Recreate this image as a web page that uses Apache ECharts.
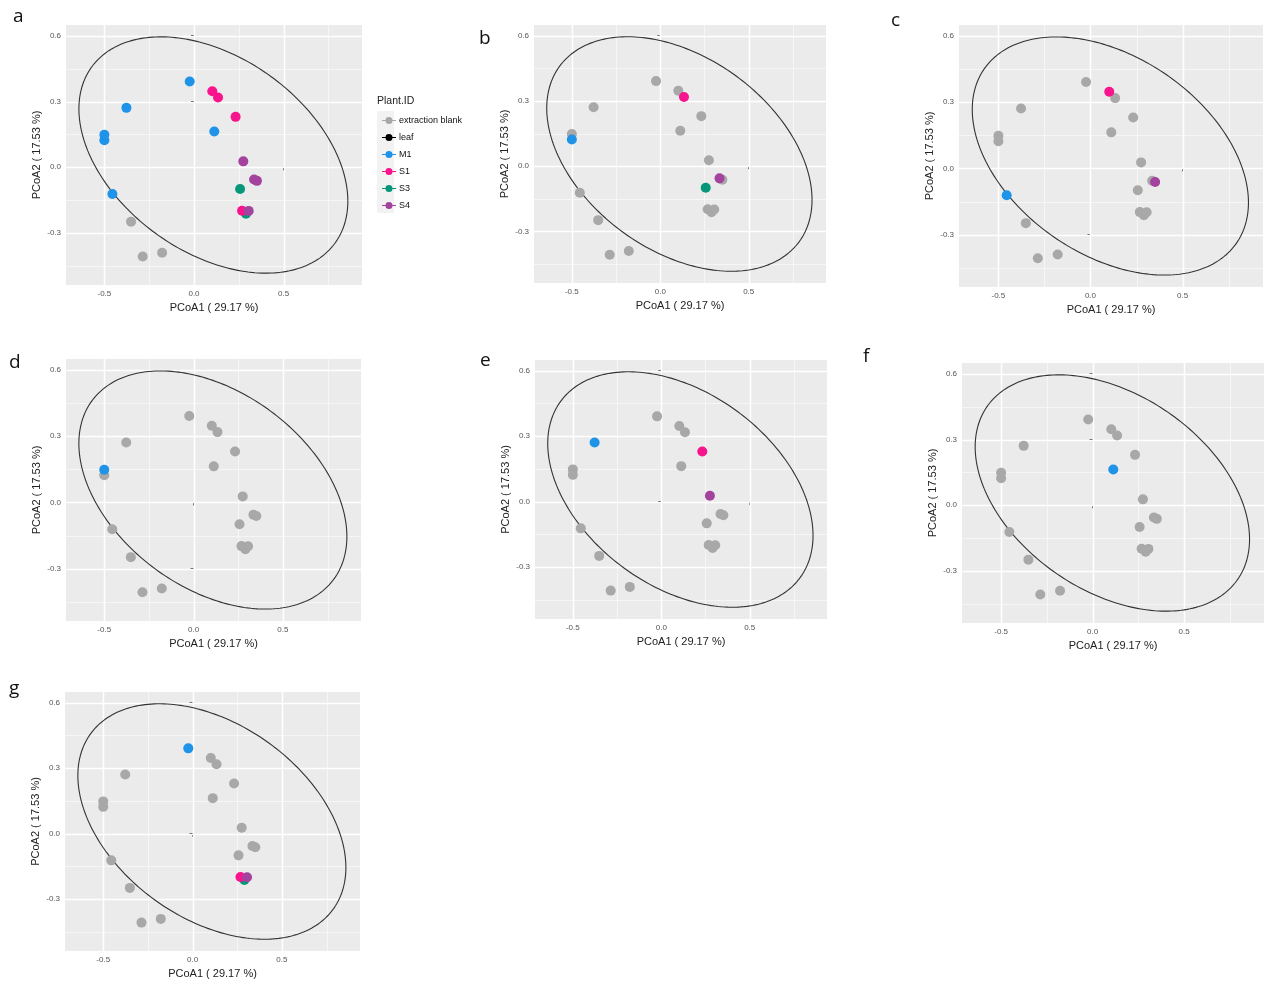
<!DOCTYPE html>
<html><head><meta charset="utf-8">
<script src="https://cdn.jsdelivr.net/npm/echarts@6/dist/echarts.min.js"></script>
<style>html,body{margin:0;padding:0;background:#fff}#c{width:1265px;height:982px}</style>
</head><body><div id="c"></div>
<script>
// ---------- data ----------
const groups = ['extraction blank', 'leaf', 'M1', 'S1', 'S3', 'S4'];
const panels = ['a', 'b', 'c', 'd', 'e', 'f', 'g'];
// sample coordinates (PCoA1, PCoA2), group, and the panel in which each sample is highlighted
const pcoa1 = [-0.351, -0.286, -0.178,
  -0.500, -0.455, -0.500, -0.377, 0.113, -0.024,
  0.134, 0.102, 0.232, 0.268,
  0.257, 0.290,
  0.335, 0.351, 0.275, 0.305];
const pcoa2 = [-0.248, -0.407, -0.390,
  0.123, -0.122, 0.148, 0.271, 0.163, 0.391,
  0.318, 0.347, 0.230, -0.198,
  -0.099, -0.212,
  -0.056, -0.062, 0.027, -0.199];
const sampleGroup = ['extraction blank', 'extraction blank', 'extraction blank',
  'M1', 'M1', 'M1', 'M1', 'M1', 'M1',
  'S1', 'S1', 'S1', 'S1',
  'S3', 'S3',
  'S4', 'S4', 'S4', 'S4'];
const samplePanel = ['', '', '',
  'b', 'c', 'd', 'e', 'f', 'g',
  'b', 'c', 'e', 'g',
  'b', 'g',
  'b', 'c', 'e', 'g'];
const xTicks = [-0.5, 0, 0.5];
const yTicks = [-0.3, 0, 0.3, 0.6];
const xMinor = [-0.25, 0.25, 0.75];
const yMinor = [-0.45, -0.15, 0.15, 0.45];
const xRange = [-0.714, 0.937];
const yRange = [-0.537, 0.649];
const ellipseCenter = [0.108, 0.056];
const ellipseRadii = [0.75, 0.539];
const ellipsePhaseDeg = 113;
const xTitle = 'PCoA1 ( 29.17 %)';
const yTitle = 'PCoA2 ( 17.53 %)';
const legendTitle = 'Plant.ID';

// ---------- style / layout ----------
const groupColors = {'extraction blank': '#A8A8A8', 'leaf': '#000000', 'M1': '#1E93E8', 'S1': '#F7148C', 'S3': '#06977A', 'S4': '#A4439E'};
const greyColor = '#A8A8A8';
const FONT = 'Liberation Sans';
const gridBoxes = [
  {left: 66, top: 25, width: 296, height: 260},
  {left: 534, top: 25, width: 292, height: 258},
  {left: 959, top: 25, width: 304, height: 262},
  {left: 66, top: 359, width: 295, height: 262},
  {left: 535, top: 360, width: 292, height: 259},
  {left: 962, top: 363, width: 302, height: 260},
  {left: 65, top: 692, width: 295, height: 259}
];
const labelPos = [[13, 7], [479, 29], [891, 11], [9, 353], [480, 351], [863, 347], [9, 679]];
const seriesOrder = ['M1', 'S3', 'S1', 'S4'];

function pts(filter) {
  const out = [];
  for (let i = 0; i < pcoa1.length; i++) if (filter(i)) out.push([pcoa1[i], pcoa2[i]]);
  return out;
}
const fmt = v => v.toFixed(1);

const grid = [], xAxis = [], yAxis = [], series = [], graphic = [];
panels.forEach((p, k) => {
  grid.push(Object.assign({show: true, backgroundColor: '#EBEBEB', borderWidth: 0}, gridBoxes[k]));
  xAxis.push({
    gridIndex: k, type: 'value', min: xRange[0], max: xRange[1],
    name: xTitle, nameLocation: 'middle', nameGap: 17,
    nameTextStyle: {fontFamily: FONT, fontSize: 11, color: '#222'},
    axisLine: {show: false},
    axisTick: {show: true, length: 3, customValues: xTicks, lineStyle: {color: '#444', width: 1}},
    axisLabel: {customValues: xTicks, formatter: fmt, margin: 5, fontFamily: FONT, fontSize: 8, color: '#555'},
    splitLine: {show: false}
  });
  yAxis.push({
    gridIndex: k, type: 'value', min: yRange[0], max: yRange[1],
    name: yTitle, nameLocation: 'middle', nameGap: 24, nameRotate: 90,
    nameTextStyle: {fontFamily: FONT, fontSize: 11, color: '#222'},
    axisLine: {show: false},
    axisTick: {show: true, length: 3, customValues: yTicks, lineStyle: {color: '#444', width: 1}},
    axisLabel: {customValues: yTicks, formatter: fmt, margin: 5, fontFamily: FONT, fontSize: 8, color: '#555'},
    splitLine: {show: false}
  });
  // panel grid lines through the axis scales
  series.push({
    type: 'custom', xAxisIndex: k, yAxisIndex: k, silent: true, z: 1, data: [[0, 0]],
    renderItem: (params, api) => {
      const children = [];
      const crisp = v => Math.round(v) + 0.5;
      const addV = (v, w, c) => { const a = api.coord([v, yRange[0]]), b = api.coord([v, yRange[1]]); const x = crisp(a[0]);
        children.push({type: 'line', shape: {x1: x, y1: a[1], x2: x, y2: b[1]}, style: {stroke: c, lineWidth: w}}); };
      const addH = (v, w, c) => { const a = api.coord([xRange[0], v]), b = api.coord([xRange[1], v]); const y = crisp(a[1]);
        children.push({type: 'line', shape: {x1: a[0], y1: y, x2: b[0], y2: y}, style: {stroke: c, lineWidth: w}}); };
      xMinor.forEach(v => addV(v, 1, '#F6F6F6')); yMinor.forEach(v => addH(v, 1, '#F6F6F6'));
      xTicks.forEach(v => addV(v, 1.5, '#FFFFFF')); yTicks.forEach(v => addH(v, 1.5, '#FFFFFF'));
      return {type: 'group', children};
    }
  });
  // confidence ellipse
  series.push({
    type: 'custom', xAxisIndex: k, yAxisIndex: k, silent: true, z: 2, data: [ellipseCenter],
    renderItem: (params, api) => {
      const phi = ellipsePhaseDeg * Math.PI / 180, P = [];
      for (let i = 0; i <= 240; i++) {
        const t = 2 * Math.PI * i / 240;
        P.push(api.coord([ellipseCenter[0] + ellipseRadii[0] * Math.cos(t), ellipseCenter[1] + ellipseRadii[1] * Math.cos(t + phi)]));
      }
      return {type: 'polyline', shape: {points: P}, style: {stroke: '#333333', lineWidth: 1.1, fill: null}};
    }
  });
  const common = {type: 'scatter', xAxisIndex: k, yAxisIndex: k, symbolSize: 10, z: 3, animation: false};
  if (p === 'a') {
    ['extraction blank', 'leaf'].concat(seriesOrder).forEach(g => {
      series.push(Object.assign({}, common, {name: g, itemStyle: {color: groupColors[g], opacity: 1}, data: pts(i => sampleGroup[i] === g)}));
    });
  } else {
    series.push(Object.assign({}, common, {name: 'not highlighted', itemStyle: {color: greyColor, opacity: 1}, data: pts(i => samplePanel[i] !== p)}));
    seriesOrder.forEach(g => {
      series.push(Object.assign({}, common, {name: g, itemStyle: {color: groupColors[g], opacity: 1}, data: pts(i => samplePanel[i] === p && sampleGroup[i] === g)}));
    });
  }
  graphic.push({type: 'text', left: labelPos[k][0], top: labelPos[k][1], style: {text: p, fontFamily: 'Open Sans', fontSize: 19, fill: '#111'}});
});

graphic.push({type: 'text', left: 377, top: 96, style: {text: legendTitle, fontFamily: FONT, fontSize: 10.5, fill: '#222'}});
graphic.push({type: 'rect', left: 377, top: 111, shape: {width: 17, height: 102}, style: {fill: '#F2F2F2'}, z: -1});

const icon = 'path://M0,3.5H16V4.5H0Z M8,0A4,4 0 1,1 7.999,0Z';
const option = {
  animation: false,
  backgroundColor: '#FFFFFF',
  grid, xAxis, yAxis, series, graphic,
  legend: {
    orient: 'vertical', left: 377, top: 111, itemWidth: 14, itemHeight: 8, itemGap: 8,
    selectedMode: false,
    data: groups.map(g => ({name: g, icon})),
    textStyle: {fontFamily: FONT, fontSize: 9, color: '#111', lineHeight: 9, padding: [0, 0, 0, -2]},
    formatter: n => n
  }
};
const chart = echarts.init(document.getElementById('c'), null, {renderer: 'canvas'});
chart.setOption(option);
</script></body></html>
